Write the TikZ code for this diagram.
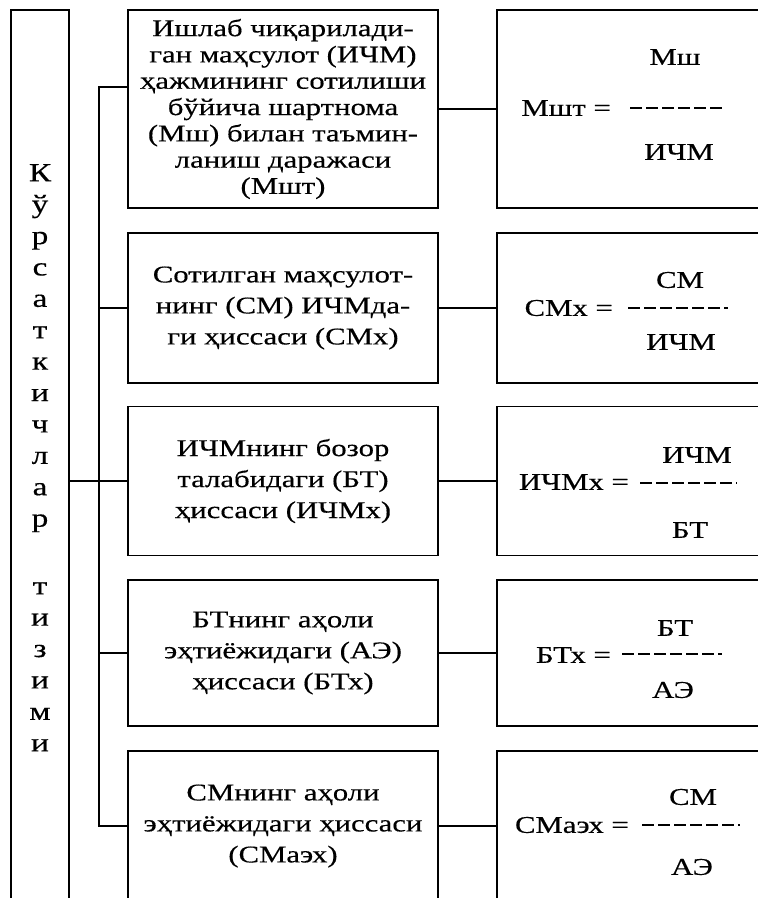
\documentclass[tikz,border=0pt]{standalone}
\usepackage{fontspec}
\setmainfont{Liberation Serif}[FakeStretch=1.28,FakeBold=0.4]

\begin{document}
\begin{tikzpicture}[x=1pt,y=-1pt,
  frame/.style={draw,line width=1.6pt,inner sep=0pt},
  desc/.style={frame,minimum width=310pt,align=center,
    font=\fontsize{24}{31}\selectfont},
  res/.style={frame,minimum width=293pt},
  term/.style={inner sep=0pt,font=\fontsize{24}{28}\selectfont},
  link/.style={line width=1.6pt},
  bar/.style={line width=1.4pt,dash pattern=on 12pt off 4pt}]
  \useasboundingbox (0,0) rectangle (758,898);
  \fill[white] (0,0) rectangle (758,898);
  \clip (0,0) rectangle (758,898);

  % Left column
  \node[frame,minimum width=58pt,minimum height=910pt] (col) at (40,465) {};
  \node[inner sep=0pt,align=center,anchor=north,
    font=\fontsize{26}{31.4}\selectfont] (colTxt) at (40,164)
    {К\\ў\\р\\с\\а\\т\\к\\и\\ч\\л\\а\\р\\[36.2pt]т\\и\\з\\и\\м\\и};

  % Indicator boxes
  \node[desc,minimum height=198pt,font=\fontsize{24}{26.3}\selectfont] (b1)
    at (283,109) {Ишлаб чиқарилади-\\ган маҳсулот (ИЧМ)\\ҳажмининг сотилиши\\бўйича шартнома\\(Мш) билан таъмин-\\ланиш даражаси\\(Мшт)};
  \node[desc,minimum height=150pt] (b2) at (283,308)
    {Сотилган маҳсулот-\\нинг (СМ) ИЧМда-\\ги ҳиссаси (СМх)};
  \node[desc,minimum height=149pt] (b3) at (283,481)
    {ИЧМнинг бозор\\талабидаги (БТ)\\ҳиссаси (ИЧМх)};
  \node[desc,minimum height=146pt] (b4) at (283,653)
    {БТнинг аҳоли\\эҳтиёжидаги (АЭ)\\ҳиссаси (БТх)};
  \node[desc,minimum height=150pt] (b5) at (283,826)
    {СМнинг аҳоли\\эҳтиёжидаги ҳиссаси\\(СМаэх)};

  % Formula boxes
  \node[res,minimum height=198pt] (f1) at (643.5,109) {};
  \node[res,minimum height=150pt] (f2) at (643.5,308) {};
  \node[res,minimum height=149pt] (f3) at (643.5,481) {};
  \node[res,minimum height=146pt] (f4) at (643.5,653) {};
  \node[res,minimum height=150pt] (f5) at (643.5,826) {};

  % Mшт
  \node[term,anchor=east] (l1) at (611,108) {Мшт =};
  \node[term] (n1) at (675,57) {Мш};
  \node[term] (d1) at (679,152) {ИЧМ};
  \coordinate (s1) at (630,108);
  \coordinate (e1) at (723,108);
  \draw[bar] (s1) -- (e1);

  % СМх
  \node[term,anchor=east] (l2) at (613,308) {СМх =};
  \node[term] (n2) at (680,280) {СМ};
  \node[term] (d2) at (681,342) {ИЧМ};
  \coordinate (s2) at (628,308);
  \coordinate (e2) at (728,308);
  \draw[bar] (s2) -- (e2);

  % ИЧМх
  \node[term,anchor=east] (l3) at (629,482) {ИЧМх =};
  \node[term] (n3) at (697,455) {ИЧМ};
  \node[term] (d3) at (690,530) {БТ};
  \coordinate (s3) at (640,483);
  \coordinate (e3) at (737,483);
  \draw[bar] (s3) -- (e3);

  % БТх
  \node[term,anchor=east] (l4) at (611,655) {БТх =};
  \node[term] (n4) at (675,628) {БТ};
  \node[term] (d4) at (673,690) {АЭ};
  \coordinate (s4) at (622,654);
  \coordinate (e4) at (722,654);
  \draw[bar] (s4) -- (e4);

  % СМаэх
  \node[term,anchor=east] (l5) at (629,825) {СМаэх =};
  \node[term] (n5) at (693,797) {СМ};
  \node[term] (d5) at (692,867) {АЭ};
  \coordinate (s5) at (642,825);
  \coordinate (e5) at (740,825);
  \draw[bar] (s5) -- (e5);

  % Links
  \coordinate (bt) at (99,87);
  \draw[link] (b1.west |- bt) -- (bt) -- (bt |- b5.west) -- (b5.west);
  \draw[link] (bt |- b2.west) -- (b2.west);
  \draw[link] (bt |- b4.west) -- (b4.west);
  \draw[link] (col.east |- b3.west) -- (b3.west);
  \draw[link] (b1.east) -- (f1.west);
  \draw[link] (b2.east) -- (f2.west);
  \draw[link] (b3.east) -- (f3.west);
  \draw[link] (b4.east) -- (f4.west);
  \draw[link] (b5.east) -- (f5.west);
\end{tikzpicture}
\end{document}
